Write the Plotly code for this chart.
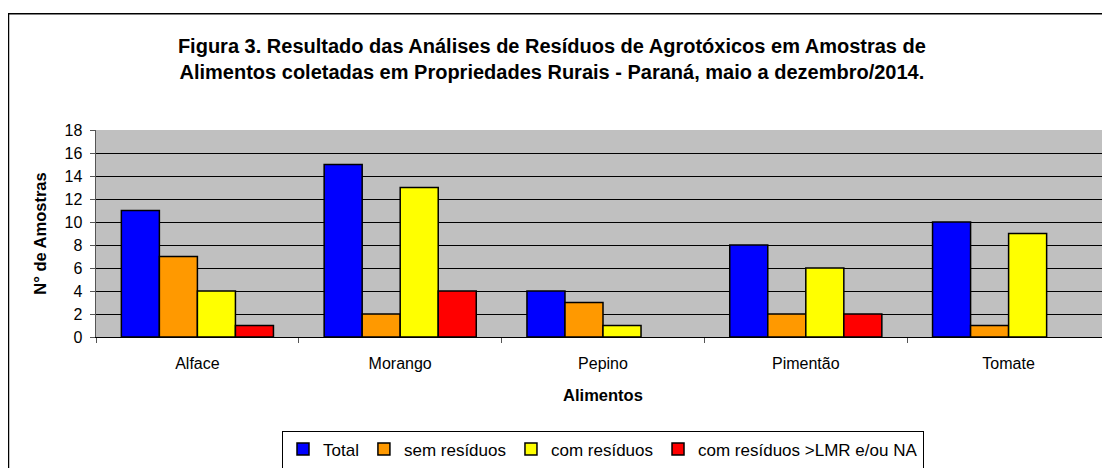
import plotly.graph_objects as go

# --- dados ---
alimentos = ["Alface", "Morango", "Pepino", "Pimentão", "Tomate"]
total = [11, 15, 4, 8, 10]
sem_residuos = [7, 2, 3, 2, 1]
com_residuos = [4, 13, 1, 6, 9]
com_residuos_lmr = [1, 4, 0, 2, 0]

series = [
    ("Total", total, "#0000FF"),
    ("sem resíduos", sem_residuos, "#FF9900"),
    ("com resíduos", com_residuos, "#FFFF00"),
    ("com resíduos >LMR e/ou NA", com_residuos_lmr, "#FF0000"),
]

fig = go.Figure()
for nome, valores, cor in series:
    # barras de valor zero não aparecem no original
    bordas = [1.5 if v > 0 else 0 for v in valores]
    fig.add_trace(go.Bar(
        x=alimentos, y=valores, name=nome,
        marker=dict(color=cor, line=dict(color="#000000", width=bordas)),
    ))

fonte = "Liberation Sans, Arial, sans-serif"
fig.update_layout(
    width=1110, height=468,
    barmode="group", bargap=0.25, bargroupgap=0,
    paper_bgcolor="white", plot_bgcolor="#C0C0C0",
    font=dict(family=fonte, size=16, color="#000000"),
    margin=dict(l=88, r=8, t=122, b=134),
    title=dict(
        text="<b>Figura 3. Resultado das Análises de Resíduos de Agrotóxicos em Amostras de<br>"
             "Alimentos coletadas em Propriedades Rurais - Paraná, maio a dezembro/2014.</b>",
        x=0.49, xanchor="center", y=0.903, yanchor="middle",
        font=dict(size=20, family=fonte),
    ),
    xaxis=dict(
        title=dict(text="<b>Alimentos</b>", font=dict(size=16.5), standoff=18),
        tickfont=dict(size=16), ticklabelstandoff=12,
        showline=True, linecolor="#000000", linewidth=1,
        ticks="outside", tickson="boundaries", ticklen=5, tickcolor="#555555",
        showgrid=False,
    ),
    yaxis=dict(
        title=dict(text="<b>N° de Amostras</b>", font=dict(size=16.5), standoff=13),
        tickfont=dict(size=16), ticksuffix=" ",
        range=[0, 18], dtick=2,
        showgrid=True, gridcolor="#000000", gridwidth=1,
        showline=True, linecolor="#555555", linewidth=1,
        ticks="outside", ticklen=5, tickcolor="#555555",
        zeroline=False,
    ),
    legend=dict(
        orientation="h", x=0.5, xanchor="center", y=-0.452, yanchor="top",
        bordercolor="#000000", borderwidth=1, font=dict(size=17),
        itemwidth=30, tracegroupgap=0,
    ),
    shapes=[
        dict(type="rect", xref="paper", yref="paper", x0=-0.0863, x1=1.05, y0=-0.7, y1=1.562,
             line=dict(color="#000000", width=1.5), fillcolor="rgba(0,0,0,0)", layer="below"),
    ],
)

fig.write_html("out.html")
